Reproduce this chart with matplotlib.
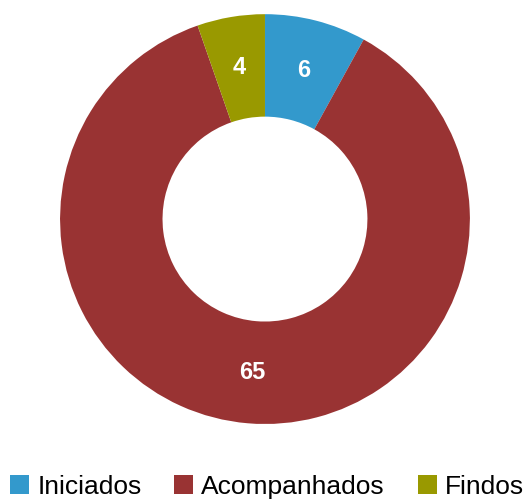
import matplotlib.pyplot as plt
from matplotlib.patches import Patch

plt.rcParams['font.family'] = ['Liberation Sans', 'DejaVu Sans']

categories = ['Iniciados', 'Acompanhados', 'Findos']
values = [6, 65, 4]
colors = ['#3399cc', '#993333', '#999900']

fig = plt.figure(figsize=(5.26, 5.01), dpi=100)
ax = fig.add_axes([0.114, 0.1537, 0.7795, 0.818])

wedges, texts, autotexts = ax.pie(
    values, colors=colors, startangle=90, counterclock=False,
    radius=1.0, wedgeprops=dict(width=0.5, edgecolor='none'),
    autopct=lambda p: f'{round(p * sum(values) / 100):d}', pctdistance=0.75,
    textprops=dict(color='white', fontsize=17, fontweight='bold'))
ax.set_xlim(-1, 1)
ax.set_ylim(-1, 1)
ax.set_aspect('equal')

handles = [Patch(facecolor=c, edgecolor='none') for c in colors]
fig.legend(handles, categories, loc='center', bbox_to_anchor=(0.508, 0.028),
           ncol=3, frameon=False, fontsize=19, handlelength=0.72, handleheight=0.72,
           handletextpad=0.3, columnspacing=1.25, borderaxespad=0, borderpad=0)

fig.savefig('out.png', dpi=100)
